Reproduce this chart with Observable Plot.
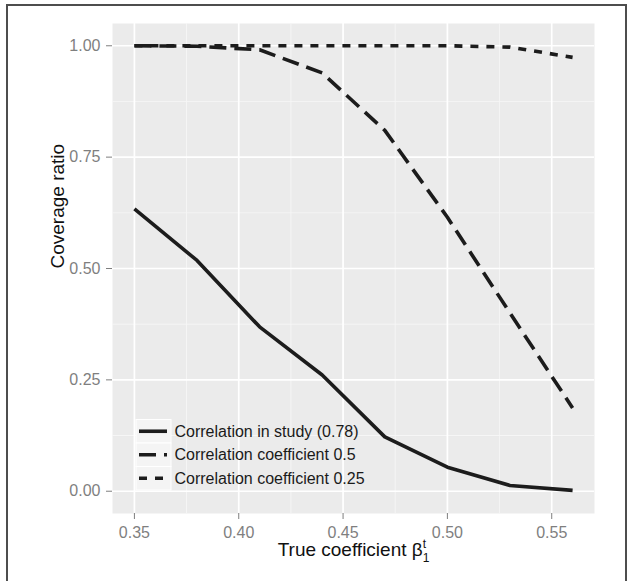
<!DOCTYPE html>
<html>
<head>
<meta charset="utf-8">
<script src="https://cdn.jsdelivr.net/npm/d3@7"></script>
<script src="https://cdn.jsdelivr.net/npm/@observablehq/plot@0.6"></script>
<style>
  body { margin: 0; background: white; }
  #wrap { position: relative; width: 627px; height: 581px; overflow: hidden; }
  #frameBorder { position: absolute; left: 6px; top: 4px; width: 617px; height: 600px;
    border: 2px solid #4d4d4d; pointer-events: none; }
</style>
</head>
<body>
<div id="wrap">
  <div id="chart"></div>
  <div id="frameBorder"></div>
</div>
<script>
// ---- data ----
const xValues = [0.35, 0.38, 0.41, 0.44, 0.47, 0.50, 0.53, 0.56];
const studyCorr = [0.634, 0.518, 0.369, 0.261, 0.122, 0.054, 0.013, 0.002];
const corr050 = [1.000, 0.999, 0.991, 0.939, 0.810, 0.615, 0.400, 0.187];
const corr025 = [1.000, 1.000, 1.000, 1.000, 1.000, 1.000, 0.997, 0.974];
const seriesNames = ["Correlation in study (0.78)", "Correlation coefficient 0.5", "Correlation coefficient 0.25"];
const xTicks = [0.35, 0.40, 0.45, 0.50, 0.55];
const xMinor = [0.375, 0.425, 0.475, 0.525];
const yTicks = [0, 0.25, 0.5, 0.75, 1.0];
const yMinor = [0.125, 0.375, 0.625, 0.875];
const xTitle = "True coefficient β";
const yTitle = "Coverage ratio";

// ---- styles ----
const dashes = {[seriesNames[0]]: null, [seriesNames[1]]: "17,8", [seriesNames[2]]: "8,8"};
const lineColor = "#1c1c1c";
const lineWidth = 3.6;
const fontFamily = "'Liberation Sans', Arial, Helvetica, sans-serif";

const seriesValues = [studyCorr, corr050, corr025];
const rows = seriesNames.flatMap((s, k) => xValues.map((x, i) => ({x, y: seriesValues[k][i], s})));

const fmt = d3.format(".2f");

const plot = Plot.plot({
  width: 627,
  height: 581,
  marginLeft: 112,
  marginRight: 33,
  marginTop: 23,
  marginBottom: 68,
  style: {fontFamily, background: "transparent"},
  x: {domain: [0.3395, 0.5705]},
  y: {domain: [-0.05, 1.05]},
  marks: [
    Plot.frame({fill: "#ebebeb", stroke: null}),
    Plot.ruleX(xMinor, {stroke: "#f6f6f6", strokeWidth: 0.9}),
    Plot.ruleY(yMinor, {stroke: "#f6f6f6", strokeWidth: 0.9}),
    Plot.ruleX(xTicks, {stroke: "white", strokeWidth: 1.7}),
    Plot.ruleY(yTicks, {stroke: "white", strokeWidth: 1.7}),
    ...seriesNames.map(name => Plot.line(rows.filter(d => d.s === name), {
      x: "x", y: "y", stroke: lineColor, strokeWidth: lineWidth,
      strokeDasharray: dashes[name], strokeLinecap: "butt", strokeLinejoin: "round"
    })),
    Plot.axisX({ticks: xTicks, tickFormat: fmt, tickSize: 6, tickPadding: 7, fontSize: 16,
      color: "#7f7f7f", label: null}),
    Plot.axisY({ticks: yTicks, tickFormat: fmt, tickSize: 6, tickPadding: 6, fontSize: 16,
      color: "#7f7f7f", label: null}),
    Plot.text([yTitle], {frameAnchor: "left", dx: -54.5, rotate: -90, fontSize: 19, fill: "#111"}),
    Plot.text([xTitle], {frameAnchor: "bottom", dy: 42.6, fontSize: 19, fill: "#111", className: "xtitle"})
  ]
});

document.getElementById("chart").appendChild(plot);

// superscript / subscript on the x title
const xt = d3.select(plot).select(".xtitle text");
xt.append("tspan").attr("font-size", 12).attr("dy", -8.5).text("t");
xt.append("tspan").attr("font-size", 12).attr("dx", -3.4).attr("dy", 14).text("1");

// ---- legend (inside the panel, bottom-left) ----
const svg = d3.select(plot);
const legend = svg.append("g").attr("font-size", 16).attr("fill", "#1a1a1a")
  .attr("text-anchor", "start").attr("font-family", fontFamily);
const keyX = 136, keyW = 35, keyTop = 419.5, rowH = 23.5;
seriesNames.forEach((name, i) => {
  const y0 = keyTop + i * rowH;
  legend.append("rect").attr("x", keyX).attr("y", y0).attr("width", keyW).attr("height", rowH)
    .attr("fill", "#f4f4f4").attr("stroke", "white").attr("stroke-width", 1);
  legend.append("line").attr("x1", keyX + 3).attr("x2", keyX + keyW - 4)
    .attr("y1", y0 + rowH / 2).attr("y2", y0 + rowH / 2)
    .attr("stroke", lineColor).attr("stroke-width", lineWidth)
    .attr("stroke-dasharray", dashes[name]).attr("stroke-linecap", "butt");
  legend.append("text").attr("x", keyX + keyW + 3.5).attr("y", y0 + rowH / 2).attr("dy", "0.35em")
    .attr("text-anchor", "start")
    .text(name);
});
</script>
</body>
</html>
